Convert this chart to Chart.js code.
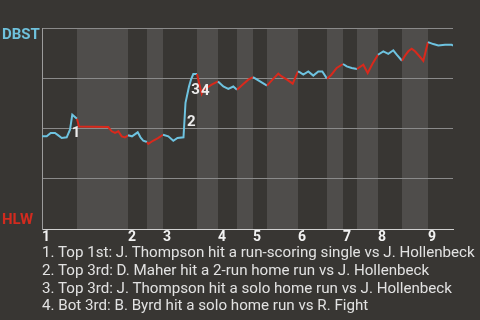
<!DOCTYPE html>
<html>
<head>
<meta charset="utf-8">
<script src="https://cdn.jsdelivr.net/npm/chart.js@4.4.1/dist/chart.umd.min.js"></script>
<style>
  html, body { margin: 0; padding: 0; background: #383633; }
  #wrap { position: relative; width: 480px; height: 320px; overflow: hidden; font-family: Roboto, sans-serif; }
  #chartBox { position: absolute; left: 0; top: 0; width: 480px; height: 246px; }
  .team { position: absolute; left: 2px; font-weight: bold; font-size: 15px; line-height: 1; }
  #notes { position: absolute; left: 42px; top: 244.2px; color: #e2e2e2; font-size: 15.15px; line-height: 17.7px; white-space: nowrap; }
</style>
</head>
<body>
<div id="wrap">
  <div id="chartBox"><canvas id="wpChart" width="480" height="246"></canvas></div>
  <div class="team" style="top:26.5px;color:#6fc1dc">DBST</div>
  <div class="team" style="top:212.4px;color:#d22b1f">HLW</div>
  <div id="notes"></div>
</div>
<script>
// game progress (x) and DBST win probability in % (y)
const progress = [0, 4.7, 8.7, 13, 16.3, 19.7, 24.7, 28, 30.3, 35, 37, 66.3, 69.7, 73, 76.3, 79.7, 83, 86,
  90, 95.7, 98.5, 101.3, 105, 106.3, 111, 116, 121, 126.3, 131.3, 135.5, 141.5, 143.5, 147, 149, 151.3, 155,
  159.7, 161.3, 165.5, 169.7, 176, 181.3, 186.3, 191.3, 195, 200.5, 206.3, 211, 218, 225, 230.5, 236.3, 239.7,
  245, 250.7, 256, 258, 261.3, 266.3, 271.3, 276.3, 280.3, 285, 289, 294.7, 301, 304.7, 309.7, 315, 321.3,
  325.7, 330.5, 336, 341.3, 346.3, 351.3, 354.7, 360, 363, 366.3, 369.7, 373, 377, 381.3, 386, 391.3, 396.3,
  403, 409.7, 411];
const winProb = [46.1, 46.1, 47.8, 47.8, 46.6, 45.3, 45.6, 49.4, 56.9, 54.9, 51.0, 50.7, 48.6, 47.8, 48.6, 46.1, 45.6, 46.6,
  46.1, 48.1, 45.6, 43.9, 43.3, 42.4, 43.9, 45.2, 46.9, 46.1, 43.9, 45.3, 45.6, 62.8, 70.9, 74.3, 77.1, 77.1,
  67.3, 69.3, 70.5, 71.8, 73.4, 70.9, 69.7, 70.9, 69.3, 71.8, 74.3, 75.6, 73.4, 71.3, 74.3, 77.3, 75.9,
  74.3, 72.3, 78.4, 77.9, 76.8, 78.4, 76.3, 78.4, 78.4, 74.8, 76.5, 80.1, 82.1, 80.9, 80.1, 79.6, 81.7,
  77.6, 82.2, 86.7, 88.4, 87.1, 88.9, 86.7, 83.7, 86.2, 88.4, 89.7, 88.4, 86.2, 83.7, 93.0, 92.0, 91.3,
  91.7, 91.7, 91.2];

// start of each half inning on the progress axis (top 1st, bot 1st, ...), last value = end
const halfStarts = [0, 35, 86, 105, 121, 155, 176, 195, 211, 225, 256, 285, 301, 315, 336, 360, 386, 411];
const inningLabels = ["1", "2", "3", "4", "5", "6", "7", "8", "9"];

// key plays: label text, where it is drawn (progress, win %)
const markerText = ["1", "2", "3", "4"];
const markerX = [34, 149.3, 153.5, 163.3];
const markerY = [48.5, 53.9, 69.8, 69.3];
const notes = [
  "1. Top 1st: J. Thompson hit a run-scoring single vs J. Hollenbeck",
  "2. Top 3rd: D. Maher hit a 2-run home run vs J. Hollenbeck",
  "3. Top 3rd: J. Thompson hit a solo home run vs J. Hollenbeck",
  "4. Bot 3rd: B. Byrd hit a solo home run vs R. Fight"
];

const BLUE = "#6ec3e0";
const RED = "#d9291c";

document.getElementById("notes").innerHTML = notes.map(n => "<div>" + n + "</div>").join("");

function halfIndex(x) {
  for (let i = 0; i < halfStarts.length - 1; i++) {
    if (x >= halfStarts[i] && x < halfStarts[i + 1]) return i;
  }
  return halfStarts.length - 2;
}

const bandPlugin = {
  id: "bands",
  beforeDraw(chart) {
    const { ctx, chartArea: a, scales: { x } } = chart;
    ctx.save();
    ctx.fillStyle = "#4f4d4b";
    for (let i = 1; i < halfStarts.length - 1; i += 2) {
      const x0 = x.getPixelForValue(halfStarts[i]);
      const x1 = x.getPixelForValue(halfStarts[i + 1]);
      ctx.fillRect(x0, a.top, x1 - x0, a.bottom - a.top);
    }
    ctx.restore();
  }
};

const markerPlugin = {
  id: "markers",
  afterDatasetsDraw(chart) {
    const { ctx, scales: { x, y } } = chart;
    ctx.save();
    ctx.fillStyle = "#ececec";
    ctx.font = "bold 15px Roboto";
    ctx.textAlign = "center";
    ctx.textBaseline = "alphabetic";
    markerText.forEach((t, i) => {
      ctx.fillText(t, x.getPixelForValue(markerX[i]), y.getPixelForValue(markerY[i]) + 5.3);
    });
    ctx.restore();
  }
};

new Chart(document.getElementById("wpChart"), {
  type: "line",
  data: {
    datasets: [{
      data: progress.map((p, i) => ({ x: p, y: winProb[i] })),
      borderColor: BLUE,
      borderWidth: 2,
      pointRadius: 0,
      tension: 0,
      segment: { borderColor: c => (halfIndex(c.p0.parsed.x) % 2 === 0 ? BLUE : RED) }
    }]
  },
  options: {
    responsive: false,
    animation: false,
    layout: { padding: { left: 42, right: 27, top: 28, bottom: 0 } },
    plugins: { legend: { display: false }, tooltip: { enabled: false } },
    scales: {
      x: {
        type: "linear", min: 0, max: 411,
        afterBuildTicks: s => { s.ticks = halfStarts.filter((v, i) => i % 2 === 0 && i < 17).map(v => ({ value: v })); },
        afterFit: s => { s.height = 17; },
        grid: { display: false, drawTicks: false },
        border: { display: true, color: "#d0d0d0", width: 1 },
        ticks: {
          callback: (v, i) => inningLabels[i],
          align: "start", autoSkip: false, maxRotation: 0, padding: 0,
          color: "#f2f2f2", font: { family: "Roboto", size: 14, weight: "bold" }
        }
      },
      y: {
        min: 0, max: 100,
        afterFit: s => { s.width = 0; },
        ticks: { display: false, stepSize: 25 },
        grid: { color: "#8a8a8a", drawTicks: false, lineWidth: 1 },
        border: { display: true, color: "#9c9c9c", width: 1 }
      }
    }
  },
  plugins: [bandPlugin, markerPlugin]
});
</script>
</body>
</html>
